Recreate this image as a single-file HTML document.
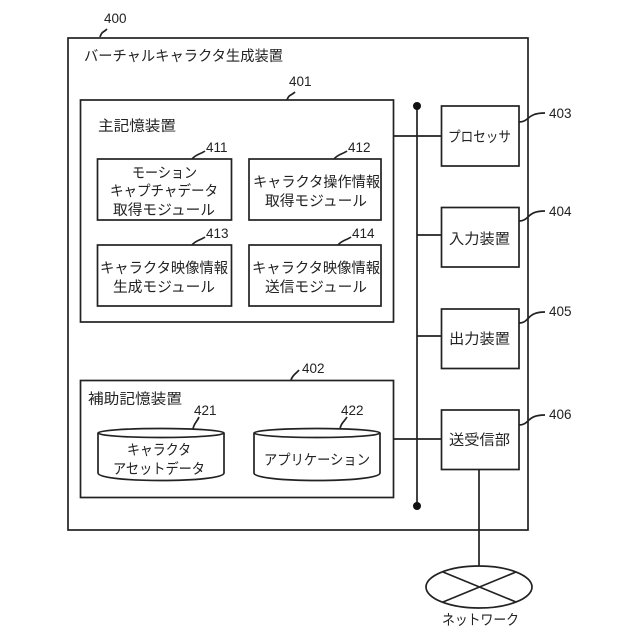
<!DOCTYPE html>
<html lang="ja">
<head>
<meta charset="utf-8">
<style>
html,body{margin:0;padding:0;background:#fff}
svg{display:block}
text{font-family:"Liberation Sans","Noto Sans CJK JP",sans-serif;font-size:14.5px;fill:#222}
.n{font-size:13.5px}
.b{fill:none;stroke:#222;stroke-width:1.7}
.w{fill:#fff;stroke:#222;stroke-width:1.7}
</style>
</head>
<body>
<svg width="640" height="640" viewBox="0 0 640 640" xmlns="http://www.w3.org/2000/svg">
<rect class="b" x="68" y="38" width="460" height="492"/>
<rect class="b" x="80.500" y="100" width="313" height="222"/>
<rect class="b" x="80.500" y="380.500" width="313" height="117"/>
<rect class="b" x="97.500" y="159" width="134" height="61"/>
<rect class="b" x="249" y="159" width="132" height="61"/>
<rect class="b" x="97.500" y="245" width="134" height="61"/>
<rect class="b" x="249" y="245" width="132" height="61"/>
<path class="b" d="M417 106V506M393 136H442M417 235H442M417 336H442M393 439H442M479 469V566"/>
<circle cx="417" cy="106" r="4" fill="#111"/>
<circle cx="417" cy="506" r="4" fill="#111"/>
<rect class="w" x="441.500" y="106" width="77.500" height="60"/>
<rect class="w" x="441.500" y="207.500" width="77.500" height="59.500"/>
<rect class="w" x="441.500" y="309" width="77.500" height="59.500"/>
<rect class="w" x="441.500" y="410" width="77.500" height="59.500"/>
<path class="w" d="M98 433V473C98 483 224 483 224 473V433"/>
<ellipse class="w" cx="161" cy="433" rx="63" ry="4.500"/>
<path class="w" d="M254 433V473C254 483 380 483 380 473V433"/>
<ellipse class="w" cx="317" cy="433" rx="63" ry="4.500"/>
<ellipse class="w" cx="479" cy="587" rx="53" ry="21"/>
<path class="b" d="M443 572L516 602M516 572L443 602"/>
<path class="b" d="M100 37C102 31 103 33 107 29M287 100C289 94 291 96 295 92M192 159C196 154 201 154 205 151M334 159C338 154 343 154 347 151M192 245C196 240 201 240 205 237M338 245C342 240 347 240 351 237M291 380C293 374 296 374 299 370M193 429C194 423 197 422 199 417M340 429C341 423 344 422 347 417M519 122C530 122 526 113 545 113M519 221C530 221 526 211 545 211M519 323C530 323 526 312 545 312M519 425C530 425 526 415 545 415"/>
<text class="n" x="104" y="23">400</text>
<text class="n" x="289" y="86">401</text>
<text class="n" x="302" y="373">402</text>
<text class="n" x="549" y="118">403</text>
<text class="n" x="549" y="216">404</text>
<text class="n" x="549" y="316">405</text>
<text class="n" x="549" y="419">406</text>
<text class="n" x="206" y="152">411</text>
<text class="n" x="348" y="152">412</text>
<text class="n" x="206" y="238">413</text>
<text class="n" x="352" y="238">414</text>
<text class="n" x="194" y="415">421</text>
<text class="n" x="341" y="415">422</text>
<text x="84" y="61" textLength="199" lengthAdjust="spacingAndGlyphs">バーチャルキャラクタ生成装置</text>
<text x="98" y="131" textLength="78" lengthAdjust="spacingAndGlyphs">主記憶装置</text>
<text x="88" y="404" textLength="94" lengthAdjust="spacingAndGlyphs">補助記憶装置</text>
<text x="132" y="178" textLength="65" lengthAdjust="spacingAndGlyphs">モーション</text>
<text x="110" y="196" textLength="108" lengthAdjust="spacingAndGlyphs">キャプチャデータ</text>
<text x="113" y="215" textLength="102" lengthAdjust="spacingAndGlyphs">取得モジュール</text>
<text x="253" y="187" textLength="127" lengthAdjust="spacingAndGlyphs">キャラクタ操作情報</text>
<text x="265" y="206" textLength="102" lengthAdjust="spacingAndGlyphs">取得モジュール</text>
<text x="100" y="273" textLength="128" lengthAdjust="spacingAndGlyphs">キャラクタ映像情報</text>
<text x="113" y="292" textLength="102" lengthAdjust="spacingAndGlyphs">生成モジュール</text>
<text x="252" y="273" textLength="128" lengthAdjust="spacingAndGlyphs">キャラクタ映像情報</text>
<text x="265" y="292" textLength="102" lengthAdjust="spacingAndGlyphs">送信モジュール</text>
<text x="127" y="455" textLength="64" lengthAdjust="spacingAndGlyphs">キャラクタ</text>
<text x="113" y="474" textLength="92" lengthAdjust="spacingAndGlyphs">アセットデータ</text>
<text x="264" y="465" textLength="106" lengthAdjust="spacingAndGlyphs">アプリケーション</text>
<text x="448" y="142" textLength="63" lengthAdjust="spacingAndGlyphs">プロセッサ</text>
<text x="449" y="244" textLength="61" lengthAdjust="spacingAndGlyphs">入力装置</text>
<text x="449" y="344" textLength="61" lengthAdjust="spacingAndGlyphs">出力装置</text>
<text x="449" y="445" textLength="61" lengthAdjust="spacingAndGlyphs">送受信部</text>
<text x="442" y="625" textLength="77" lengthAdjust="spacingAndGlyphs">ネットワーク</text>
</svg>
</body>
</html>
